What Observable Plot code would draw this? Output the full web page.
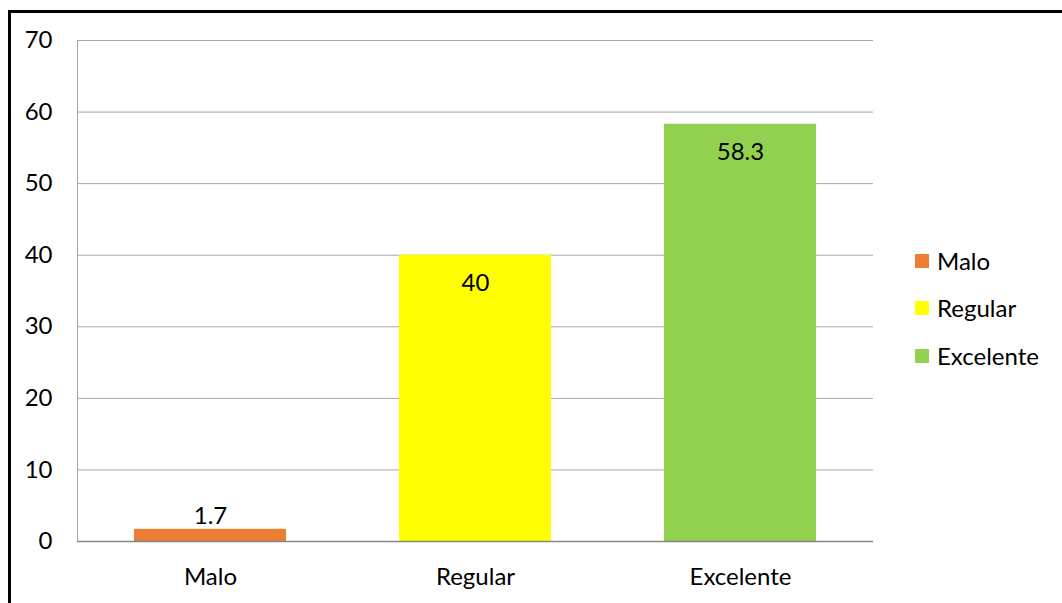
<!DOCTYPE html>
<html>
<head>
<meta charset="utf-8">
<script src="https://cdn.jsdelivr.net/npm/d3@7"></script>
<script src="https://cdn.jsdelivr.net/npm/@observablehq/plot@0.6"></script>
<style>
  html, body { margin: 0; padding: 0; background: #fff; }
  #wrap { position: relative; width: 1062px; height: 603px; overflow: hidden; font-family: Lato, "Open Sans", sans-serif; }
  #border { position: absolute; left: 8px; top: 10px; width: 2000px; height: 2000px; border-left: 3px solid #000; border-top: 3px solid #000; box-sizing: border-box; }
  #chart { position: absolute; left: 0; top: 0; }
  #legend { position: absolute; left: 915px; top: 237px; font-size: 24px; color: #000; }
  .item { display: flex; align-items: center; height: 47.5px; line-height: 1; }
  .sw { width: 14px; height: 14px; margin-right: 8px; flex: none; }
</style>
</head>
<body>
<div id="wrap">
  <div id="border"></div>
  <div id="chart"></div>
  <div id="legend"></div>
</div>
<script>
// Rating categories, their percentages and bar colours
const categories = ["Malo", "Regular", "Excelente"];
const values = [1.7, 40, 58.3];
const colors = ["#ED7D31", "#FFFF00", "#92D050"];
const yTicks = [0, 10, 20, 30, 40, 50, 60, 70];

const data = categories.map((c, i) => ({category: c, value: values[i]}));
const fmt = v => String(v);

const chart = Plot.plot({
  width: 1062,
  height: 603,
  marginLeft: 77,
  marginRight: 189,
  marginTop: 40,
  marginBottom: 62,
  style: {fontFamily: "Lato, 'Open Sans', sans-serif", fontSize: "24px", color: "#000", background: "transparent"},
  x: {domain: categories, paddingInner: 0.426, paddingOuter: 0.213, label: null},
  y: {domain: [0, 70], ticks: yTicks, label: null},
  color: {domain: categories, range: colors},
  marks: [
    Plot.ruleY(yTicks.filter(t => t > 0), {stroke: "#a6a6a6", strokeWidth: 1}),
    Plot.frame({anchor: "left", stroke: "#a6a6a6"}),
    Plot.barY(data, {x: "category", y: "value", fill: "category"}),
    Plot.ruleY([0], {stroke: "#868686", strokeWidth: 1.3}),
    Plot.axisY({ticks: yTicks, tickSize: 0, tickPadding: 25, fontSize: 24, label: null}),
    Plot.axisX({tickSize: 0, tickPadding: 26, fontSize: 24, label: null}),
    // labels that fit inside the bar sit just below its top
    Plot.text(data.filter(d => d.value >= 10), {x: "category", y: "value", text: d => fmt(d.value), lineAnchor: "middle", dy: 28.5, fontSize: 24, fill: "#000"}),
    // short bars get their label above
    Plot.text(data.filter(d => d.value < 10), {x: "category", y: "value", text: d => fmt(d.value), lineAnchor: "middle", dy: -13, fontSize: 24, fill: "#000"})
  ]
});
document.getElementById("chart").append(chart);

const legend = document.getElementById("legend");
categories.forEach((c, i) => {
  const item = document.createElement("div");
  item.className = "item";
  const sw = document.createElement("span");
  sw.className = "sw";
  sw.style.background = colors[i];
  const label = document.createElement("span");
  label.textContent = c;
  item.append(sw, label);
  legend.append(item);
});
</script>
</body>
</html>
